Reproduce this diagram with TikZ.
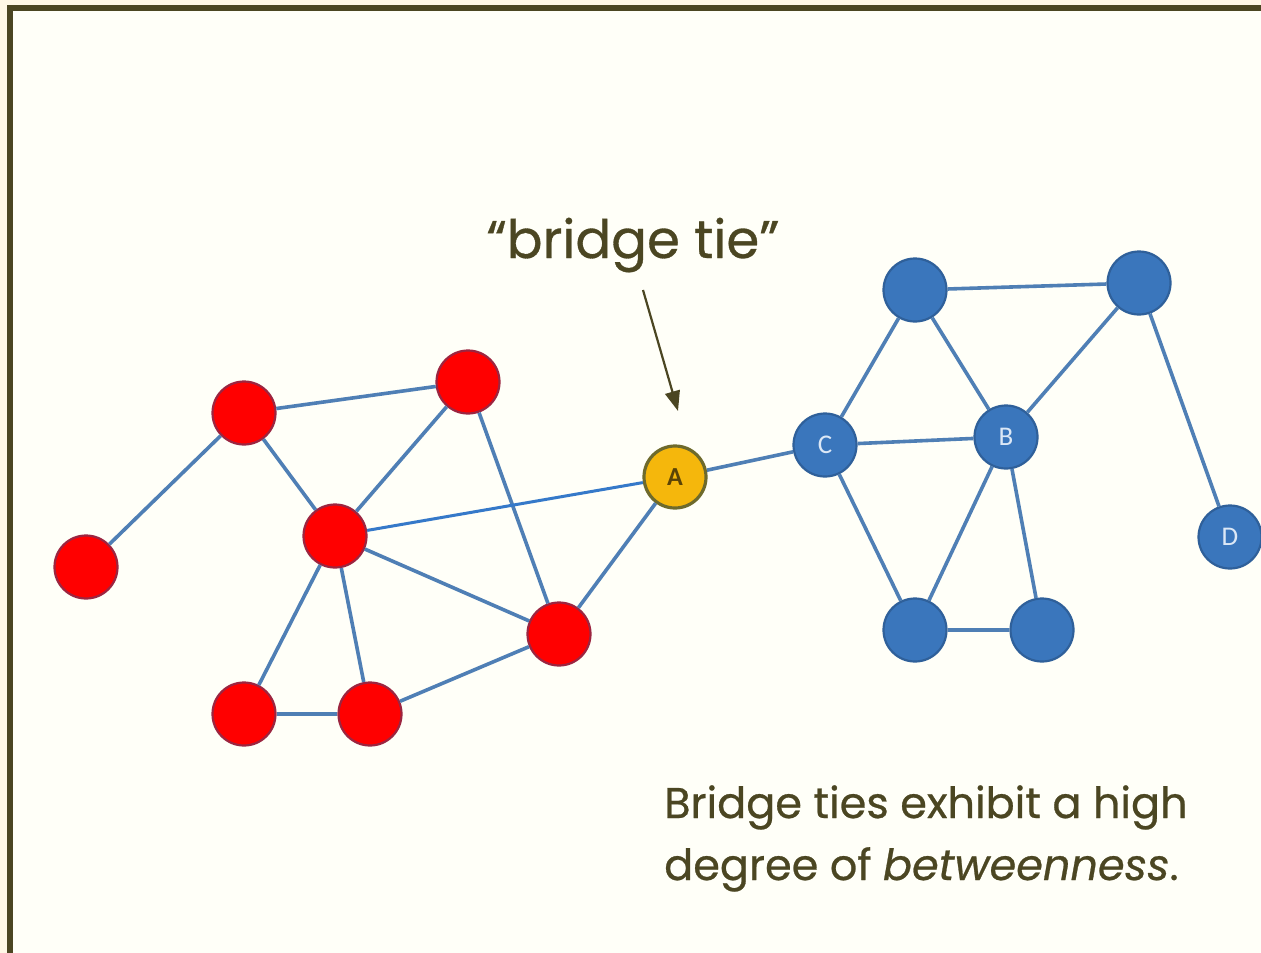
\documentclass[tikz,border=0pt]{standalone}
\usepackage{fontspec}
\setmainfont{Poppins}[UprightFeatures={FakeBold=0.6}, ItalicFeatures={FakeBold=0.6}]
\newfontfamily\carl{Carlito}
\usetikzlibrary{arrows.meta}
\definecolor{outerbg}{HTML}{FFF8E6}
\definecolor{innerbg}{HTML}{FFFFF8}
\definecolor{olive}{HTML}{4B4622}
\definecolor{edgeblue}{HTML}{4F7FB5}
\definecolor{brightblue}{HTML}{3579C9}
\definecolor{redfill}{HTML}{FF0000}
\definecolor{redline}{HTML}{9C2540}
\definecolor{bluefill}{HTML}{3A76BC}
\definecolor{blueline}{HTML}{2F609A}
\definecolor{yellowfill}{HTML}{F5B70C}
\definecolor{yellowline}{HTML}{6E6A2C}
\definecolor{lettblue}{HTML}{DCE8F6}
\definecolor{lettA}{HTML}{5A4306}
\tikzset{
  rednode/.style={circle, minimum size=63pt, inner sep=0pt, fill=redfill, draw=redline, line width=2.2pt},
  bluenode/.style={circle, minimum size=63pt, inner sep=0pt, fill=bluefill, draw=blueline, line width=2.2pt, text=lettblue, font=\carl\fontsize{27}{27}\selectfont},
  bridgenode/.style={circle, minimum size=62pt, inner sep=0pt, fill=yellowfill, draw=yellowline, line width=3.2pt, text=lettA, font=\carl\bfseries\fontsize{26}{26}\selectfont},
  tie/.style={draw=edgeblue, line width=3.6pt},
  brighttie/.style={draw=brightblue, line width=3pt},
  caption/.style={text=olive, inner sep=0pt, anchor=base west}
}
\begin{document}
\begin{tikzpicture}[x=1pt, y=-1pt]
\useasboundingbox (0,0) rectangle (1261,953);
\fill[outerbg] (0,0) rectangle (1261,953);
\fill[innerbg] (10,8) rectangle (1270,960);
\draw[olive, line width=6pt] (10,970) -- (10,8) -- (1270,8);

% red cluster
\node[rednode] (r1) at (86,567) {};
\node[rednode] (r2) at (244,413) {};
\node[rednode] (r3) at (468,382) {};
\node[rednode] (r4) at (335,536) {};
\node[rednode] (r5) at (559,634) {};
\node[rednode] (r6) at (244,714) {};
\node[rednode] (r7) at (370,714) {};
% bridge node
\node[bridgenode] (a) at (675,477) {A};
% blue cluster
\node[bluenode] (c) at (825,445) {C};
\node[bluenode] (b) at (1006,437) {B};
\node[bluenode] (t1) at (915,290) {};
\node[bluenode] (t2) at (1139,283) {};
\node[bluenode] (d) at (1230,537) {D};
\node[bluenode] (l1) at (915,630) {};
\node[bluenode] (l2) at (1042,630) {};

% ties
\path[tie] (r1) -- (r2);
\path[tie] (r2) -- (r3);
\path[tie] (r2) -- (r4);
\path[tie] (r3) -- (r4);
\path[tie] (r3) -- (r5);
\path[tie] (r4) -- (r5);
\path[tie] (r4) -- (r6);
\path[tie] (r4) -- (r7);
\path[tie] (r6) -- (r7);
\path[tie] (r7) -- (r5);
\path[tie] (r5) -- (a);
\path[brighttie] (r4) -- (a);
\path[tie] (a) -- (c);
\path[tie] (c) -- (t1);
\path[tie] (c) -- (b);
\path[tie] (c) -- (l1);
\path[tie] (t1) -- (t2);
\path[tie] (t1) -- (b);
\path[tie] (t2) -- (b);
\path[tie] (t2) -- (d);
\path[tie] (b) -- (l1);
\path[tie] (b) -- (l2);
\path[tie] (l1) -- (l2);

% label and arrow
\node[text=olive, inner sep=0pt, font=\fontsize{53}{53}\selectfont] (lbl) at (633,245) {“bridge tie”};
\coordinate (arrstart) at (643,290);
\coordinate (arrend) at (678,411);
\draw[olive, line width=2.2pt, -{Triangle[length=20pt, width=15pt]}] (arrstart) -- (arrend);

% caption
\node[caption, font=\fontsize{43}{43}\selectfont] (cap1) at (664,818) {Bridge ties exhibit a high};
\node[caption, font=\fontsize{43}{43}\selectfont] (cap2) at (664,880) {degree of \textit{betweenness}.};
\end{tikzpicture}
\end{document}
